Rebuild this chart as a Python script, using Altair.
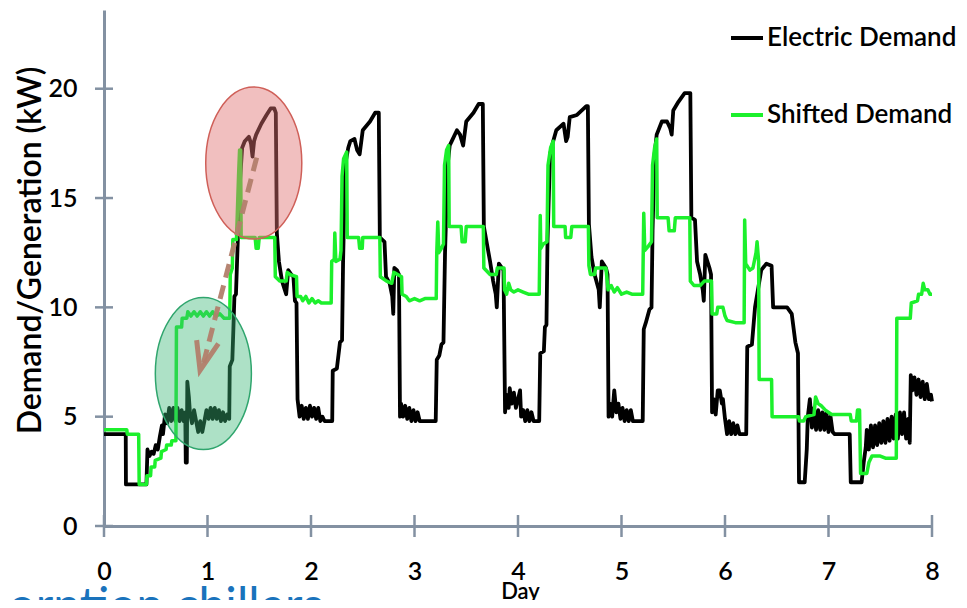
import altair as alt
import pandas as pd

# ---------------- data ----------------
series_names = ["Electric Demand", "Shifted Demand"]
series_colors = ["#000000", "#1cf02c"]

x_ticks = [0, 1, 2, 3, 4, 5, 6, 7, 8]
y_ticks = [0, 5, 10, 15, 20]

elec_points = [
    (0.00, 4.2), (0.21, 4.2), (0.212, 1.9), (0.41, 1.9), (0.42, 3.5), (0.44, 3.2), (0.46, 3.4), (0.48, 3.3),
    (0.50, 3.7), (0.52, 3.5), (0.54, 4.1), (0.56, 4.6), (0.57, 4.2), (0.59, 5.1), (0.61, 4.7), (0.63, 5.4),
    (0.65, 4.8), (0.67, 5.4), (0.69, 4.8), (0.71, 5.4), (0.73, 4.8), (0.75, 5.3), (0.77, 4.8), (0.785, 5.2),
    (0.79, 2.9), (0.80, 2.9), (0.805, 6.6), (0.82, 5.9), (0.83, 5.2), (0.85, 4.7), (0.87, 5.3), (0.89, 4.8),
    (0.91, 4.3), (0.93, 4.8), (0.95, 4.3), (0.97, 4.8), (0.99, 5.3), (1.01, 4.9), (1.03, 5.4), (1.05, 4.9),
    (1.07, 5.4), (1.09, 4.9), (1.11, 5.3), (1.13, 4.8), (1.15, 5.2), (1.17, 4.8), (1.19, 5.1), (1.21, 4.9),
    (1.215, 7.3), (1.24, 7.6), (1.25, 9.0), (1.26, 10.5), (1.275, 10.6), (1.285, 12.0), (1.31, 15.5),
    (1.335, 17.3), (1.36, 17.6), (1.40, 17.8), (1.42, 17.5), (1.435, 16.9), (1.45, 17.6), (1.47, 17.9),
    (1.52, 18.4), (1.57, 18.8), (1.61, 19.1), (1.645, 19.1), (1.66, 18.9), (1.67, 13.4), (1.69, 12.1),
    (1.72, 11.2), (1.76, 10.6), (1.78, 11.7), (1.81, 11.5), (1.83, 11.4), (1.845, 10.3), (1.86, 10.2),
    (1.87, 5.8), (1.89, 5.0), (1.91, 5.5), (1.93, 4.9), (1.95, 5.4), (1.97, 4.9), (1.99, 5.5), (2.01, 5.0),
    (2.03, 5.4), (2.05, 4.9), (2.07, 5.4), (2.09, 4.8), (2.11, 5.0), (2.13, 4.8), (2.205, 4.8),
    (2.21, 7.1), (2.25, 7.2), (2.28, 8.4), (2.30, 8.5), (2.31, 12.1), (2.33, 16.5), (2.36, 17.3), (2.38, 17.6),
    (2.42, 17.7), (2.445, 17.2), (2.47, 17.0), (2.50, 18.1), (2.57, 18.5), (2.62, 18.9), (2.655, 18.9),
    (2.665, 13.2), (2.71, 13.0), (2.725, 11.4), (2.76, 11.1), (2.785, 10.5), (2.795, 9.7), (2.805, 11.8),
    (2.83, 11.7), (2.85, 11.5), (2.86, 5.0), (2.87, 5.6), (2.89, 5.0), (2.91, 5.5), (2.93, 4.9), (2.95, 5.4),
    (2.97, 4.8), (2.99, 5.3), (3.01, 4.8), (3.03, 5.2), (3.05, 4.8), (3.205, 4.8),
    (3.215, 7.6), (3.24, 7.8), (3.26, 8.3), (3.28, 8.4), (3.295, 12.5), (3.32, 16.5), (3.34, 17.4),
    (3.36, 17.6), (3.41, 18.1), (3.44, 17.9), (3.47, 17.4), (3.50, 18.5), (3.57, 18.9), (3.62, 19.3),
    (3.66, 19.3), (3.67, 13.7), (3.73, 12.1), (3.76, 11.2), (3.785, 10.6), (3.795, 10.0), (3.815, 12.0),
    (3.86, 11.7), (3.875, 5.2), (3.89, 6.0), (3.91, 5.4), (3.92, 6.3), (3.94, 5.6), (3.96, 6.1), (3.98, 5.4),
    (4.00, 5.8), (4.02, 6.2), (4.03, 5.0), (4.05, 5.3), (4.07, 4.8), (4.09, 5.3), (4.11, 4.8), (4.13, 5.2),
    (4.15, 4.8), (4.205, 4.8),
    (4.215, 7.9), (4.25, 8.0), (4.26, 9.1), (4.275, 9.2), (4.285, 13.0), (4.31, 17.0), (4.34, 17.6),
    (4.37, 18.1), (4.44, 18.4), (4.465, 17.6), (4.48, 17.8), (4.50, 18.7), (4.57, 18.8), (4.66, 19.2),
    (4.675, 19.2), (4.685, 13.8), (4.71, 12.3), (4.74, 11.5), (4.78, 10.8), (4.79, 10.0), (4.81, 12.1),
    (4.85, 11.8), (4.865, 11.5), (4.875, 5.0), (4.89, 5.6), (4.91, 5.0), (4.93, 6.2), (4.95, 5.2), (4.97, 5.6),
    (4.99, 4.9), (5.01, 5.4), (5.03, 4.8), (5.05, 5.3), (5.07, 4.8), (5.09, 5.3), (5.11, 4.8), (5.205, 4.8),
    (5.215, 9.0), (5.235, 9.3), (5.27, 9.9), (5.29, 10.0), (5.30, 13.5), (5.32, 17.0), (5.34, 17.9),
    (5.39, 18.5), (5.44, 18.5), (5.47, 18.2), (5.485, 17.9), (5.50, 19.0), (5.55, 19.4), (5.61, 19.8),
    (5.665, 19.8), (5.675, 14.1), (5.71, 14.0), (5.73, 12.1), (5.76, 11.5), (5.785, 10.8), (5.795, 10.3),
    (5.81, 12.4), (5.85, 11.8), (5.865, 11.5), (5.875, 5.2), (5.89, 5.8), (5.91, 5.1), (5.93, 6.2),
    (5.95, 6.2), (5.97, 5.6), (5.98, 5.8), (6.00, 4.9), (6.02, 4.2), (6.04, 4.8), (6.06, 4.2), (6.08, 4.7),
    (6.10, 4.2), (6.12, 4.6), (6.14, 4.2), (6.205, 4.2),
    (6.215, 8.2), (6.26, 8.3), (6.29, 10.0), (6.35, 11.7), (6.40, 12.0), (6.45, 11.9), (6.465, 10.0),
    (6.60, 10.0), (6.645, 9.7), (6.68, 8.4), (6.705, 7.9), (6.715, 2.0), (6.77, 2.0), (6.79, 3.5), (6.80, 5.0),
    (6.82, 5.8), (6.84, 4.5), (6.86, 5.4), (6.88, 4.4), (6.90, 5.3), (6.92, 4.4), (6.94, 5.2), (6.96, 4.4),
    (6.98, 5.2), (7.00, 4.3), (7.02, 5.0), (7.04, 4.3), (7.06, 4.2), (7.205, 4.2), (7.215, 2.0), (7.32, 2.0),
    (7.34, 2.9), (7.36, 3.6), (7.37, 4.4), (7.39, 3.5), (7.41, 4.6), (7.43, 3.6), (7.45, 4.6), (7.47, 3.7),
    (7.49, 4.7), (7.51, 3.8), (7.53, 4.8), (7.55, 3.8), (7.57, 4.9), (7.59, 3.9), (7.61, 5.0), (7.63, 4.0),
    (7.65, 5.1), (7.67, 4.0), (7.69, 5.2), (7.71, 4.2), (7.73, 5.2), (7.75, 4.0), (7.77, 4.9), (7.785, 3.8),
    (7.795, 6.9), (7.81, 6.2), (7.83, 6.8), (7.85, 6.0), (7.87, 6.7), (7.89, 5.9), (7.91, 6.6), (7.93, 5.8),
    (7.95, 6.5), (7.97, 5.8), (7.99, 6.0), (8.00, 5.7),
]

shift_points = [
    (0.00, 4.4), (0.22, 4.4), (0.225, 4.2), (0.335, 4.2), (0.34, 1.9), (0.41, 1.9), (0.415, 2.3), (0.45, 2.3),
    (0.455, 2.7), (0.49, 2.7), (0.495, 3.0), (0.55, 3.1), (0.555, 3.4), (0.60, 3.5), (0.605, 3.7), (0.65, 3.7),
    (0.655, 3.9), (0.695, 3.9), (0.70, 9.1), (0.75, 9.1), (0.755, 9.5), (0.80, 9.5), (0.81, 9.8), (0.84, 9.6),
    (0.87, 9.8), (0.90, 9.6), (0.93, 9.8), (0.96, 9.6), (0.99, 9.8), (1.02, 9.6), (1.05, 9.8), (1.08, 9.6),
    (1.12, 9.7), (1.16, 9.5), (1.215, 9.5), (1.22, 11.5), (1.24, 11.8), (1.245, 13.1), (1.28, 13.1),
    (1.30, 16.0), (1.31, 17.2), (1.32, 17.2), (1.325, 13.2), (1.46, 13.2), (1.47, 12.7), (1.49, 12.7),
    (1.50, 13.2), (1.65, 13.2), (1.655, 11.4), (1.70, 11.2), (1.76, 11.2), (1.77, 11.6), (1.80, 11.5),
    (1.86, 11.4), (1.865, 10.5), (1.90, 10.5), (1.92, 10.3), (1.95, 10.5), (1.98, 10.2), (2.01, 10.4),
    (2.04, 10.2), (2.07, 10.3), (2.10, 10.2), (2.195, 10.2), (2.20, 12.1), (2.225, 12.2), (2.23, 13.4),
    (2.24, 12.1), (2.28, 12.2), (2.29, 12.6), (2.30, 16.0), (2.315, 16.8), (2.345, 17.1), (2.35, 13.2),
    (2.46, 13.2), (2.47, 12.7), (2.495, 12.7), (2.50, 13.2), (2.665, 13.2), (2.67, 11.4), (2.73, 11.2),
    (2.78, 11.1), (2.80, 11.6), (2.875, 11.4), (2.88, 10.6), (2.92, 10.5), (2.95, 10.3), (3.00, 10.4),
    (3.05, 10.3), (3.10, 10.4), (3.21, 10.4), (3.215, 12.5), (3.225, 13.9), (3.235, 12.5), (3.26, 12.7),
    (3.28, 12.9), (3.29, 16.5), (3.31, 17.2), (3.33, 17.4), (3.335, 13.7), (3.45, 13.7), (3.46, 13.0),
    (3.49, 13.0), (3.50, 13.7), (3.665, 13.7), (3.67, 11.8), (3.73, 11.5), (3.79, 11.5), (3.80, 11.8),
    (3.865, 11.8), (3.87, 10.8), (3.89, 10.6), (3.91, 11.1), (3.93, 10.8), (3.96, 10.7), (4.00, 10.8),
    (4.05, 10.7), (4.10, 10.6), (4.205, 10.6), (4.21, 12.5), (4.215, 14.2), (4.22, 12.7), (4.245, 12.9),
    (4.28, 13.0), (4.29, 16.5), (4.315, 17.3), (4.34, 17.6), (4.345, 13.7), (4.455, 13.7), (4.46, 13.2),
    (4.51, 13.2), (4.52, 13.7), (4.68, 13.7), (4.685, 11.9), (4.70, 11.5), (4.74, 11.5), (4.75, 11.8),
    (4.85, 11.8), (4.87, 10.8), (4.90, 11.0), (4.93, 10.7), (4.96, 10.9), (5.00, 10.6), (5.05, 10.7),
    (5.10, 10.6), (5.205, 10.6), (5.21, 12.5), (5.215, 14.3), (5.225, 12.6), (5.26, 12.8), (5.29, 13.0),
    (5.30, 16.5), (5.32, 17.3), (5.34, 17.7), (5.345, 14.1), (5.45, 14.1), (5.46, 13.5), (5.51, 13.5),
    (5.52, 14.1), (5.66, 14.1), (5.665, 11.2), (5.70, 11.0), (5.76, 11.0), (5.80, 11.2), (5.87, 11.2),
    (5.875, 9.7), (5.92, 9.7), (5.93, 10.0), (5.98, 10.0), (6.00, 9.6), (6.02, 9.4), (6.10, 9.3),
    (6.185, 9.3), (6.19, 14.0), (6.20, 12.0), (6.24, 11.7), (6.27, 11.8), (6.30, 12.5), (6.31, 13.0),
    (6.325, 12.1), (6.33, 6.7), (6.45, 6.7), (6.455, 5.0), (6.71, 5.0), (6.72, 4.8), (6.76, 4.8),
    (6.78, 5.0), (6.86, 5.1), (6.875, 5.9), (6.90, 5.6), (6.93, 5.5), (6.97, 5.3), (7.03, 5.1), (7.21, 5.1),
    (7.22, 4.8), (7.27, 4.8), (7.28, 5.3), (7.30, 5.3), (7.31, 2.4), (7.37, 2.4), (7.39, 2.9), (7.42, 3.2),
    (7.50, 3.2), (7.55, 3.1), (7.655, 3.1), (7.66, 9.5), (7.79, 9.5), (7.80, 10.2), (7.86, 10.3),
    (7.87, 10.6), (7.90, 10.6), (7.915, 11.1), (7.93, 10.8), (7.96, 10.8), (7.98, 10.6), (8.00, 10.6),
]

# annotation anchors (data units)
red_ellipse_center = (1.447, 16.6)
green_ellipse_center = (0.96, 6.97)
arrow_shaft = [(1.475, 16.85), (0.96, 7.43)]
arrow_head = [(0.895, 8.5), (0.928, 7.12), (1.105, 8.34)]
caption = "Absorption chillers"

# ---------------- build tables ----------------
def series_df(points, name):
    return pd.DataFrame({
        "day": [p[0] for p in points],
        "kw": [p[1] for p in points],
        "idx": list(range(len(points))),
        "series": name,
    })

elec_df = series_df(elec_points, series_names[0])
shift_df = series_df(shift_points, series_names[1])

AXIS_COLOR = "#8391a2"
FONT = "Lato"

x_scale = alt.Scale(domain=[0, 8], nice=False, zero=False)
y_scale = alt.Scale(domain=[0, 23.6], nice=False, zero=False)
color_scale = alt.Scale(domain=series_names, range=series_colors)

x_axis = alt.Axis(values=x_ticks, title="Day", labelPadding=33, labelFlush=False, titleFontSize=22,
                  titleX=416, titleY=72, titleBaseline="alphabetic", titleAlign="center")
y_axis = alt.Axis(values=y_ticks, title="Demand/Generation (kW)", labelPadding=27, labelFlush=False,
                  titleFontSize=32, titleAngle=270, titleX=-64, titleY=240, titleBaseline="alphabetic",
                  titleAlign="center")

X = alt.X("day:Q", scale=x_scale, axis=x_axis)
Y = alt.Y("kw:Q", scale=y_scale, axis=y_axis)

legend = alt.Legend(title=None, orient="none", legendX=625, legendY=10, symbolType="stroke",
                    symbolSize=1024, symbolStrokeWidth=4, labelFontSize=26, labelFont=FONT,
                    labelFontWeight=600, labelColor="#000000", rowPadding=46, labelOffset=2,
                    padding=0, labelLimit=400)
COLOR = alt.Color("series:N", scale=color_scale, legend=legend)

elec_line = alt.Chart(elec_df).mark_line(strokeWidth=3.8, strokeJoin="round").encode(
    x=X, y=Y, color=COLOR, order=alt.Order("idx:Q"))
shift_line = alt.Chart(shift_df).mark_line(strokeWidth=3.5, strokeJoin="round").encode(
    x=X, y=Y, color=COLOR, order=alt.Order("idx:Q"))

ELLIPSE = "M -0.632 0 A 0.632 1 0 1 0 0.632 0 A 0.632 1 0 1 0 -0.632 0 Z"

red_ellipse = alt.Chart(pd.DataFrame({"day": [red_ellipse_center[0]], "kw": [red_ellipse_center[1]]})).mark_point(
    shape=ELLIPSE, size=23104, filled=True, fill="#e07070", fillOpacity=0.45,
    stroke="#cf5f58", strokeWidth=1.5, strokeOpacity=1, opacity=1).encode(x=X, y=Y)
green_ellipse = alt.Chart(pd.DataFrame({"day": [green_ellipse_center[0]], "kw": [green_ellipse_center[1]]})).mark_point(
    shape=ELLIPSE, size=23104, filled=True, fill="#3cb878", fillOpacity=0.42,
    stroke="#2fa56d", strokeWidth=1.5, strokeOpacity=1, opacity=1).encode(x=X, y=Y)

shaft_df = pd.DataFrame({"day": [p[0] for p in arrow_shaft], "kw": [p[1] for p in arrow_shaft],
                         "idx": list(range(len(arrow_shaft)))})
head_df = pd.DataFrame({"day": [p[0] for p in arrow_head], "kw": [p[1] for p in arrow_head],
                        "idx": list(range(len(arrow_head)))})

shaft = alt.Chart(shaft_df).mark_line(color="#b27e6b", strokeWidth=5, strokeDash=[14, 8], opacity=0.95).encode(
    x=X, y=Y, order=alt.Order("idx:Q"))
head = alt.Chart(head_df).mark_line(color="#b27e6b", strokeWidth=5, strokeJoin="miter", opacity=0.95).encode(
    x=X, y=Y, order=alt.Order("idx:Q"))

ytick_df = pd.DataFrame({"day": [0] * len(y_ticks), "kw": y_ticks})
xtick_df = pd.DataFrame({"day": x_ticks, "kw": [0] * len(x_ticks)})
yticks = alt.Chart(ytick_df).mark_tick(orient="horizontal", size=18, thickness=2.5, color=AXIS_COLOR,
                                       opacity=1).encode(x=X, y=Y)
xticks = alt.Chart(xtick_df).mark_tick(orient="vertical", size=22, thickness=2.5, color=AXIS_COLOR,
                                       opacity=1).encode(x=X, y=Y)

caption_text = alt.Chart(pd.DataFrame({"label": [caption]})).mark_text(
    align="right", baseline="alphabetic", font=FONT, fontSize=48, color="#1a73bc").encode(
    text="label:N", x=alt.value(219), y=alt.value(612))

chart = alt.layer(
    elec_line, shift_line, red_ellipse, green_ellipse, shaft, head, yticks, xticks, caption_text
).properties(
    width=828, height=516,
    autosize=alt.AutoSizeParams(type="none"),
    padding={"left": 96, "top": 2, "right": 27, "bottom": 74},
).configure_view(stroke=None).configure_axis(
    domainColor=AXIS_COLOR, domainWidth=3, ticks=False, grid=False,
    labelFont=FONT, labelFontSize=25, labelFontWeight=600, labelColor="#000000",
    titleFont=FONT, titleColor="#000000", titleFontWeight=600,
)

chart.save("out.html", embed_options={"renderer": "svg", "actions": False})
